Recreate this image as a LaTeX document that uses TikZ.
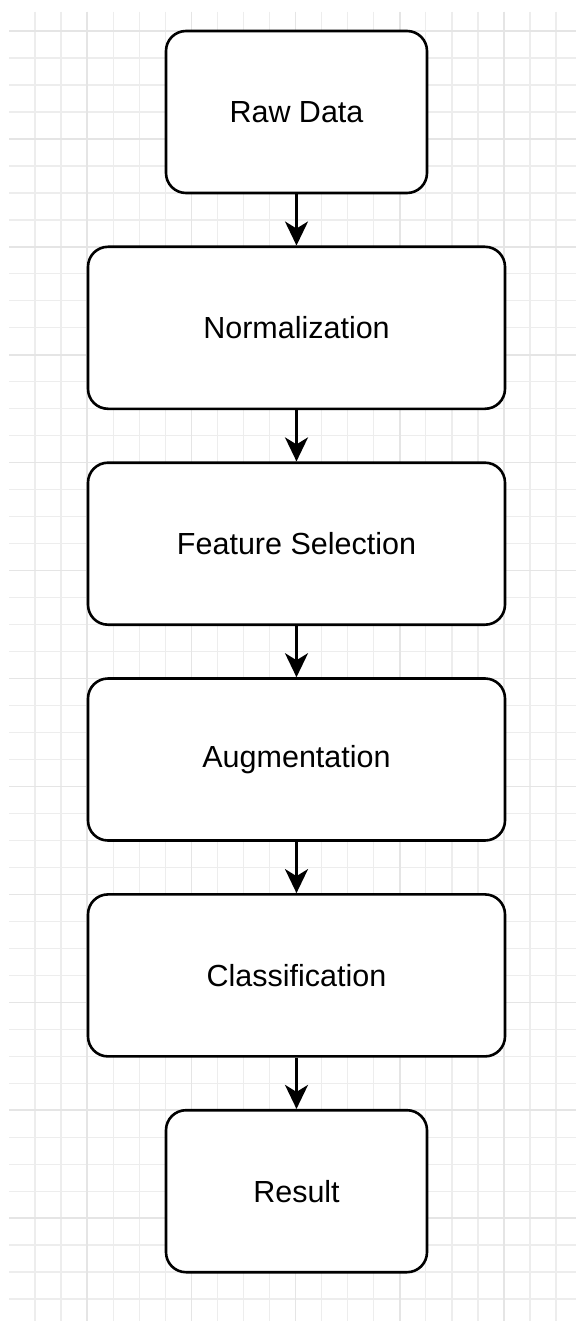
\documentclass[tikz,border=0pt]{standalone}
\usepackage{fontspec}
\setmainfont{Liberation Sans}
\usetikzlibrary{arrows.meta}
\begin{document}
\begin{tikzpicture}[x=1pt,y=-1pt,
  stage/.style={draw=black, line width=2.6pt, rounded corners=20pt, fill=white,
    font=\fontsize{30.5}{36}\selectfont, inner sep=0pt, anchor=center},
  smallbox/.style={stage, minimum width=261pt, minimum height=162pt},
  widebox/.style={stage, minimum width=417pt, minimum height=162pt},
  flow/.style={line width=2.6pt, -{Stealth[length=24pt,width=23pt,inset=7pt]}},
  gminor/.style={draw=black!7, line width=1.3pt},
  gmajor/.style={draw=black!10, line width=1.5pt}]
\useasboundingbox (0,0) rectangle (576,1321);
\fill[white] (0,0) rectangle (576,1321);
% grid
\foreach \k in {1,...,21}{
  \pgfmathsetmacro{\xx}{9+26.05*\k}
  \draw[gminor] (\xx,12) -- (\xx,1321);
}
\foreach \j in {0,...,47}{
  \pgfmathsetmacro{\yy}{31+26.98*\j}
  \draw[gminor] (9,\yy) -- (576,\yy);
}
\foreach \k in {3,7,11,15,19}{
  \pgfmathsetmacro{\xx}{9+26.05*\k}
  \draw[gmajor] (\xx,12) -- (\xx,1321);
}
\foreach \j in {0,4,...,44}{
  \pgfmathsetmacro{\yy}{31+26.98*\j}
  \draw[gmajor] (9,\yy) -- (576,\yy);
}
% stages
\node[smallbox] (raw)  at (296.5,112.0)  {Raw Data};
\node[widebox]  (norm) at (296.5,327.8)  {Normalization};
\node[widebox]  (feat) at (296.5,543.7)  {Feature Selection};
\node[widebox]  (aug)  at (296.5,759.5)  {Augmentation};
\node[widebox]  (cls)  at (296.5,975.4)  {Classification};
\node[smallbox] (res)  at (296.5,1191.2) {Result};
% connectors
\draw[flow] (raw.south)  -- (norm.north);
\draw[flow] (norm.south) -- (feat.north);
\draw[flow] (feat.south) -- (aug.north);
\draw[flow] (aug.south)  -- (cls.north);
\draw[flow] (cls.south)  -- (res.north);
\end{tikzpicture}
\end{document}
